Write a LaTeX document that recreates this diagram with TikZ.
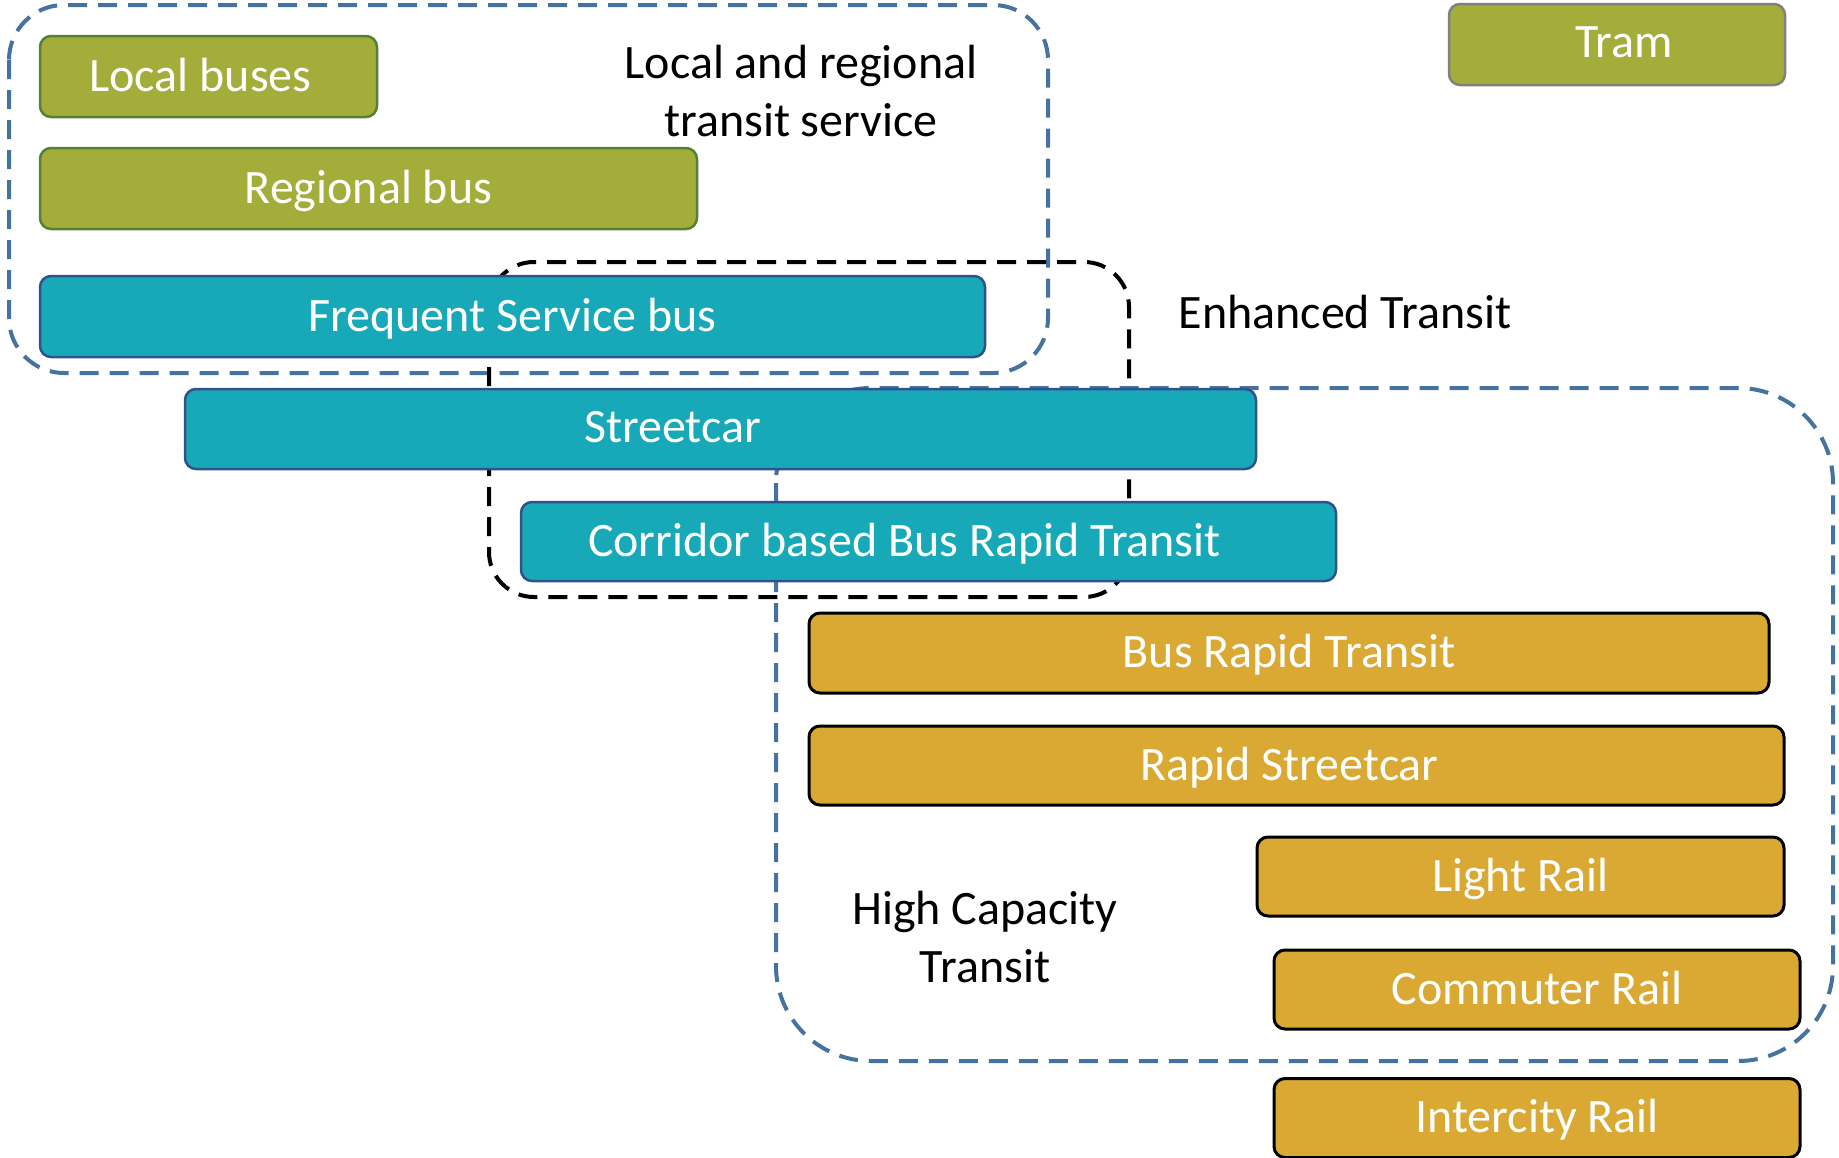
\documentclass[tikz,border=0pt]{standalone}
\usepackage{fontspec}
\setmainfont{Carlito}
\begin{document}
\definecolor{greenfill}{RGB}{165,173,58}
\definecolor{greenline}{RGB}{84,130,53}
\definecolor{tealfill}{RGB}{23,169,184}
\definecolor{tealline}{RGB}{47,82,143}
\definecolor{goldfill}{RGB}{218,169,52}
\definecolor{groupblue}{RGB}{70,114,160}
\definecolor{tramline}{RGB}{128,128,128}
% move a box caption left by half of #1
\newcommand{\capleft}[2]{#2\hspace*{#1}}
\begin{tikzpicture}[x=1pt,y=-1pt,
  every node/.style={font=\fontsize{48}{58}\selectfont},
  modebox/.style={rectangle, rounded corners=11pt, line width=2.5pt,
    minimum height=81pt, inner sep=0pt, text=white, text depth=4pt},
  greenbox/.style={modebox, fill=greenfill, draw=greenline},
  tealbox/.style={modebox, fill=tealfill, draw=tealline},
  goldbox/.style={modebox, fill=goldfill, draw=black, line width=3pt},
  group/.style={line width=4pt, dash pattern=on 19pt off 11pt},
  grouplabel/.style={align=center, text=black, inner sep=0pt}]
\useasboundingbox (0,0) rectangle (1839,1157);

% service groups (drawn beneath the mode boxes)
\draw[group, draw=groupblue, rounded corners=55pt] (9,5) rectangle (1048,373);
\draw[group, draw=black, rounded corners=45pt] (489,262) rectangle (1129,597);
\draw[group, draw=groupblue, rounded corners=95pt] (776,388) rectangle (1833,1061);

% transit modes
\node[greenbox, minimum width=337pt] (local) at (208.5,76.5) {\capleft{16pt}{Local buses}};
\node[greenbox, minimum width=657pt] (regional) at (368.5,188.5) {Regional bus};
\node[tealbox, minimum width=945pt] (frequent) at (512.5,316.5) {Frequent Service bus};
\node[tealbox, minimum width=1071pt, minimum height=80pt] (streetcar) at (720.5,429) {\capleft{96pt}{Streetcar}};
\node[tealbox, minimum width=815pt, minimum height=79pt] (corridor) at (928.5,541.5) {\capleft{48pt}{Corridor based Bus Rapid Transit}};
\node[goldbox, minimum width=960pt, minimum height=80pt] (brt) at (1289,653) {Bus Rapid Transit};
\node[goldbox, minimum width=975pt, minimum height=79pt] (rapid) at (1296.5,765.5) {\capleft{14pt}{Rapid Streetcar}};
\node[goldbox, minimum width=527pt, minimum height=79pt] (light) at (1520.5,876.5) {Light Rail};
\node[goldbox, minimum width=526pt, minimum height=79pt] (commuter) at (1537,989.5) {Commuter Rail};
\node[goldbox, minimum width=526pt, minimum height=79pt] (intercity) at (1537,1118) {Intercity Rail};
\node[greenbox, draw=tramline, minimum width=336pt] (tram) at (1617,44.5) {\hspace*{14pt}Tram};

% group captions
\node[grouplabel] (lblocal) at (801,91) {Local and regional\\transit service};
\node[grouplabel] (lbenh) at (1345,312) {Enhanced Transit};
\node[grouplabel] (lbhigh) at (985,937) {High Capacity\\Transit};
\end{tikzpicture}
\end{document}
